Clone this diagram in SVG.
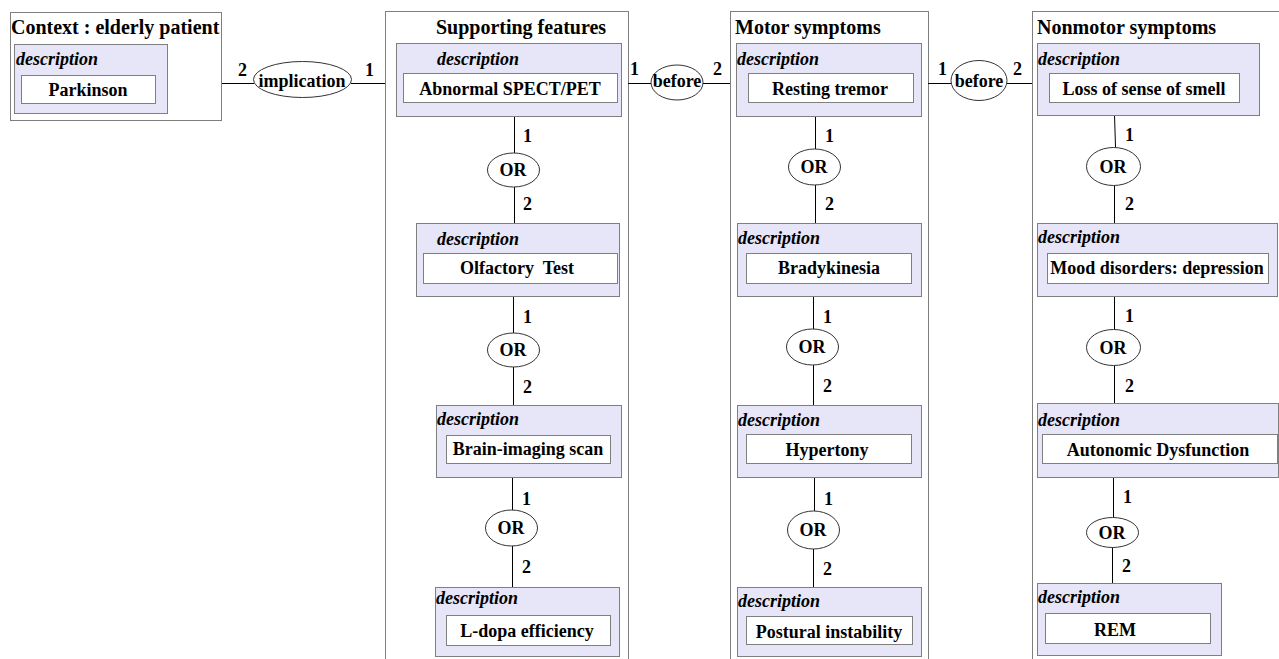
<svg xmlns="http://www.w3.org/2000/svg" width="1279" height="659" viewBox="0 0 1279 659">
<style>
.outer{fill:none;stroke:#7f7f7f;stroke-width:1}
.desc{fill:#e6e6f8;stroke:#7f7f7f;stroke-width:1}
.val{fill:#fff;stroke:#7f7f7f;stroke-width:1}
.rel{fill:#fff;stroke:#333;stroke-width:1}
.ln{stroke:#000;stroke-width:1;fill:none}
text{font-family:"Liberation Serif","Times New Roman",serif;font-weight:bold;fill:#000}
.title{font-size:20px}
.dl{font-size:18px;font-style:italic}
.v{font-size:18px;text-anchor:middle}
.n{font-size:18px}
</style>
<rect x="0" y="0" width="1279" height="659" fill="#fff"/>

<g id="context">
<rect class="outer" x="10.5" y="12.5" width="211" height="108"/>
<text class="title" x="11" y="34">Context : elderly patient</text>
</g>
<g id="supporting">
<rect class="outer" x="385.5" y="11.5" width="243" height="660"/>
<text class="title" x="521" y="34" text-anchor="middle">Supporting features</text>
</g>
<g id="motor">
<rect class="outer" x="730.5" y="11.5" width="198" height="660"/>
<text class="title" x="735" y="34">Motor symptoms</text>
</g>
<g id="nonmotor">
<rect class="outer" x="1032.5" y="11.5" width="260" height="660"/>
<text class="title" x="1037" y="34">Nonmotor symptoms</text>
</g>

<g id="connectors">
<line class="ln" x1="222" y1="83.5" x2="254" y2="83.5"/>
<line class="ln" x1="351" y1="83.5" x2="385" y2="83.5"/>
<line class="ln" x1="628" y1="83.5" x2="651" y2="83.5"/>
<line class="ln" x1="703" y1="83.5" x2="730" y2="83.5"/>
<line class="ln" x1="928" y1="83.5" x2="951" y2="83.5"/>
<line class="ln" x1="1007" y1="83.5" x2="1032" y2="83.5"/>

<line class="ln" x1="514.5" y1="116" x2="514.5" y2="153"/>
<line class="ln" x1="514.5" y1="187" x2="514.5" y2="223"/>
<line class="ln" x1="513.5" y1="296" x2="513.5" y2="333"/>
<line class="ln" x1="513.5" y1="367" x2="513.5" y2="405"/>
<line class="ln" x1="512.5" y1="477" x2="512.5" y2="511"/>
<line class="ln" x1="512.5" y1="545" x2="512.5" y2="587"/>

<line class="ln" x1="815.5" y1="116" x2="815.5" y2="149"/>
<line class="ln" x1="815.5" y1="185" x2="815.5" y2="223"/>
<line class="ln" x1="813.5" y1="296" x2="813.5" y2="329"/>
<line class="ln" x1="813.5" y1="365" x2="813.5" y2="405"/>
<line class="ln" x1="814.5" y1="477" x2="814.5" y2="511"/>
<line class="ln" x1="813.5" y1="549" x2="813.5" y2="587"/>

<line class="ln" x1="1114.5" y1="115" x2="1115.5" y2="147"/>
<line class="ln" x1="1114.5" y1="185" x2="1114.5" y2="223"/>
<line class="ln" x1="1114.5" y1="296" x2="1114.5" y2="330"/>
<line class="ln" x1="1114.5" y1="365" x2="1114.5" y2="403"/>
<line class="ln" x1="1113.5" y1="477" x2="1113.5" y2="518"/>
<line class="ln" x1="1112.5" y1="547" x2="1112.5" y2="583"/>

<text class="n" x="238" y="76">2</text>
<text class="n" x="365" y="76">1</text>
<text class="n" x="630" y="75">1</text>
<text class="n" x="713" y="75">2</text>
<text class="n" x="938" y="75">1</text>
<text class="n" x="1013" y="75">2</text>

<text class="n" x="523" y="142">1</text>
<text class="n" x="523" y="210">2</text>
<text class="n" x="523" y="323">1</text>
<text class="n" x="523" y="393">2</text>
<text class="n" x="522" y="505">1</text>
<text class="n" x="522" y="573">2</text>

<text class="n" x="825" y="142">1</text>
<text class="n" x="825" y="210">2</text>
<text class="n" x="823" y="323">1</text>
<text class="n" x="823" y="392">2</text>
<text class="n" x="824" y="505">1</text>
<text class="n" x="823" y="575">2</text>

<text class="n" x="1125" y="141">1</text>
<text class="n" x="1125" y="210">2</text>
<text class="n" x="1125" y="322">1</text>
<text class="n" x="1125" y="392">2</text>
<text class="n" x="1123" y="503">1</text>
<text class="n" x="1122" y="572">2</text>
</g>

<g id="rel-implication"><ellipse class="rel" cx="302.5" cy="79.5" rx="49" ry="18"/><text class="v" x="302" y="87">implication</text></g>
<g id="rel-before-1"><ellipse class="rel" cx="677" cy="82.5" rx="26" ry="17.5"/><text class="v" x="677" y="87">before</text></g>
<g id="rel-before-2"><ellipse class="rel" cx="979" cy="80.5" rx="28" ry="20"/><text class="v" x="979" y="87">before</text></g>

<g id="or-s1"><ellipse class="rel" cx="513.5" cy="170" rx="26" ry="17"/><text class="v" x="513" y="176">OR</text></g>
<g id="or-s2"><ellipse class="rel" cx="513.5" cy="350" rx="26" ry="17"/><text class="v" x="513" y="356">OR</text></g>
<g id="or-s3"><ellipse class="rel" cx="511.5" cy="528" rx="26" ry="18"/><text class="v" x="511" y="534">OR</text></g>

<g id="or-m1"><ellipse class="rel" cx="814.5" cy="167" rx="26" ry="18"/><text class="v" x="814" y="173">OR</text></g>
<g id="or-m2"><ellipse class="rel" cx="812.5" cy="347" rx="26" ry="18"/><text class="v" x="812" y="353">OR</text></g>
<g id="or-m3"><ellipse class="rel" cx="813.5" cy="530" rx="26" ry="19"/><text class="v" x="813" y="536">OR</text></g>

<g id="or-n1"><ellipse class="rel" cx="1113.5" cy="166.5" rx="27" ry="19"/><text class="v" x="1113" y="173">OR</text></g>
<g id="or-n2"><ellipse class="rel" cx="1113.5" cy="347.5" rx="27" ry="18"/><text class="v" x="1113" y="354">OR</text></g>
<g id="or-n3"><ellipse class="rel" cx="1112.5" cy="532.5" rx="26" ry="15"/><text class="v" x="1112" y="539">OR</text></g>

<g id="parkinson">
<rect class="desc" x="14.5" y="44.5" width="153" height="69"/>
<text class="dl" x="16" y="65">description</text>
<rect class="val" x="21.5" y="75.5" width="134" height="28"/>
<text class="v" x="88" y="96">Parkinson</text>
</g>

<g id="spect">
<rect class="desc" x="396.5" y="43.5" width="225" height="73"/>
<text class="dl" x="437" y="65">description</text>
<rect class="val" x="403.5" y="73.5" width="214" height="29"/>
<text class="v" x="510" y="95">Abnormal SPECT/PET</text>
</g>
<g id="olfactory">
<rect class="desc" x="416.5" y="223.5" width="203" height="73"/>
<text class="dl" x="437" y="245">description</text>
<rect class="val" x="423.5" y="253.5" width="194" height="30"/>
<text class="v" x="517" y="274" xml:space="preserve" style="white-space:pre">Olfactory  Test</text>
</g>
<g id="brain">
<rect class="desc" x="436.5" y="405.5" width="185" height="72"/>
<text class="dl" x="437" y="425">description</text>
<rect class="val" x="446.5" y="435.5" width="164" height="28"/>
<text class="v" x="528" y="455">Brain-imaging scan</text>
</g>
<g id="ldopa">
<rect class="desc" x="435.5" y="587.5" width="184" height="69"/>
<text class="dl" x="436" y="604">description</text>
<rect class="val" x="446.5" y="615.5" width="164" height="30"/>
<text class="v" x="527" y="637">L-dopa efficiency</text>
</g>

<g id="tremor">
<rect class="desc" x="736.5" y="43.5" width="185" height="73"/>
<text class="dl" x="737" y="65">description</text>
<rect class="val" x="748.5" y="73.5" width="165" height="29"/>
<text class="v" x="830" y="95">Resting tremor</text>
</g>
<g id="bradykinesia">
<rect class="desc" x="737.5" y="223.5" width="184" height="73"/>
<text class="dl" x="738" y="244">description</text>
<rect class="val" x="746.5" y="253.5" width="165" height="30"/>
<text class="v" x="829" y="274">Bradykinesia</text>
</g>
<g id="hypertony">
<rect class="desc" x="737.5" y="405.5" width="184" height="72"/>
<text class="dl" x="738" y="426">description</text>
<rect class="val" x="746.5" y="434.5" width="165" height="29"/>
<text class="v" x="827" y="456">Hypertony</text>
</g>
<g id="postural">
<rect class="desc" x="737.5" y="587.5" width="184" height="69"/>
<text class="dl" x="738" y="607">description</text>
<rect class="val" x="746.5" y="616.5" width="166" height="28"/>
<text class="v" x="829" y="638">Postural instability</text>
</g>

<g id="smell">
<rect class="desc" x="1037.5" y="43.5" width="222" height="72"/>
<text class="dl" x="1038" y="65">description</text>
<rect class="val" x="1049.5" y="73.5" width="190" height="29"/>
<text class="v" x="1144" y="95">Loss of sense of smell</text>
</g>
<g id="mood">
<rect class="desc" x="1037.5" y="223.5" width="240" height="73"/>
<text class="dl" x="1038" y="243">description</text>
<rect class="val" x="1047.5" y="253.5" width="221" height="30"/>
<text class="v" x="1157" y="274">Mood disorders: depression</text>
</g>
<g id="autonomic">
<rect class="desc" x="1037.5" y="403.5" width="241" height="74"/>
<text class="dl" x="1038" y="426">description</text>
<rect class="val" x="1042.5" y="434.5" width="235" height="29"/>
<text class="v" x="1158" y="456">Autonomic Dysfunction</text>
</g>
<g id="rem">
<rect class="desc" x="1037.5" y="583.5" width="184" height="72"/>
<text class="dl" x="1038" y="603">description</text>
<rect class="val" x="1045.5" y="613.5" width="165" height="30"/>
<text class="v" x="1115" y="636">REM</text>
</g>
</svg>
